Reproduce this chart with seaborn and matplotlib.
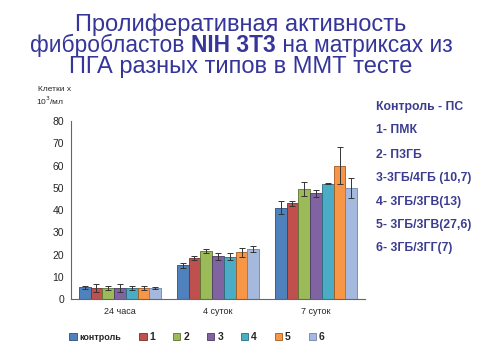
import numpy as np
import pandas as pd
import matplotlib
matplotlib.use("Agg")
import matplotlib.pyplot as plt
import seaborn as sns
from matplotlib.patches import Patch

# data
times = ["24 часа", "4 суток", "7 суток"]
groups = ["контроль", "1", "2", "3", "4", "5", "6"]
vals_24h = [5.3, 5.0, 5.0, 5.0, 5.0, 5.0, 5.0]
vals_4d = [15.2, 18.5, 21.5, 19.2, 19.0, 21.0, 22.5]
vals_7d = [41.0, 43.0, 49.5, 47.5, 51.8, 60.0, 49.8]
err_24h = [0.8, 2.0, 1.0, 2.0, 1.0, 1.0, 0.5]
err_4d = [1.2, 0.8, 1.0, 1.5, 1.5, 2.0, 1.5]
err_7d = [2.9, 1.2, 3.3, 1.5, 0.2, 8.5, 4.5]
legend_lines = ["Контроль - ПС", "1- ПМК", "2- П3ГБ", "3-3ГБ/4ГБ (10,7)",
                "4- 3ГБ/3ГВ(13)", "5- 3ГБ/3ГВ(27,6)", "6- 3ГБ/3ГГ(7)"]

colors = ["#4F81BD", "#C0504D", "#9BBB59", "#8064A2", "#4BACC6", "#F79646", "#A5B9DE"]
edges = ["#2f4f7a", "#7a2d2b", "#5c7332", "#4a3a60", "#2b6a7c", "#a35a20", "#6f83a8"]

rows = []
for t, v, e in zip(times, [vals_24h, vals_4d, vals_7d], [err_24h, err_4d, err_7d]):
    for g, vv, ee in zip(groups, v, e):
        rows.append({"time": t, "group": g, "value": vv, "err": ee})
df = pd.DataFrame(rows)

sns.set_style("white")
plt.rcParams["font.family"] = ["Liberation Sans", "DejaVu Sans"]

fig = plt.figure(figsize=(5, 3.6), dpi=100)
ax = fig.add_axes([0.142, 0.169, 0.588, 0.495])

sns.barplot(data=df, x="time", y="value", hue="group", order=times, hue_order=groups,
            palette=colors, errorbar=None, width=0.84, saturation=1, ax=ax, legend=False)

# error bars on each bar
for i, g in enumerate(groups):
    cont = ax.containers[i]
    sub = df[df["group"] == g].set_index("time").loc[times]
    for bar, v, e in zip(cont, sub["value"], sub["err"]):
        bar.set_edgecolor(edges[i])
        bar.set_linewidth(0.6)
        xc = bar.get_x() + bar.get_width() / 2
        ax.errorbar(xc, v, yerr=e, color="#333333", elinewidth=0.7, capsize=2, capthick=0.7)

ax.set_ylim(0, 80)
ax.set_xlim(-0.5, 2.5)
ax.set_yticks(range(0, 81, 10))
ax.set_xlabel("")
ax.set_ylabel("")
ax.tick_params(axis="y", labelsize=7.5, length=3, width=0.8, color="#555555", pad=2)
ax.tick_params(axis="x", which="major", labelsize=6.5, length=0, pad=6)
ax.set_xticks([-0.5, 0.5, 1.5, 2.5], minor=True)
ax.tick_params(axis="x", which="minor", length=3, width=0.8, color="#555555")
sns.despine(ax=ax)
for s in ["left", "bottom"]:
    ax.spines[s].set_color("#666666")
    ax.spines[s].set_linewidth(0.8)

fig.text(0.076, 0.748, "Клетки х", fontsize=6)
fig.text(0.072, 0.708, "10$^3$/мл", fontsize=6)

# title, middle line built from pieces so "NIH 3T3" can be bold
title_col = "#35359a"
tsize = 17
fig.text(0.482, 0.932, "Пролиферативная активность", ha="center", va="center",
         fontsize=tsize, color=title_col)
fig.text(0.482, 0.814, "ПГА разных типов в ММТ тесте", ha="center", va="center",
         fontsize=tsize, color=title_col)
renderer = fig.canvas.get_renderer()
pieces = [("фибробластов ", "normal"), ("NIH 3T3", "bold"), (" на матриксах из", "normal")]
xpos = 30
for txt, w in pieces:
    t = fig.text(xpos / 500, 0.873, txt, ha="left", va="center", fontsize=16.4,
                 color=title_col, fontweight=w)
    bb = t.get_window_extent(renderer=renderer)
    xpos += bb.width

# right side description
ys = [0.703, 0.639, 0.569, 0.506, 0.439, 0.375, 0.311]
for y, txt in zip(ys, legend_lines):
    fig.text(0.752, y, txt, fontsize=8.8, fontweight="bold", color="#3c3c90", va="center")

# bottom legend
handles = [Patch(facecolor=c, edgecolor=e, linewidth=0.6) for c, e in zip(colors, edges)]
leg = fig.legend(handles, groups, loc="center left", bbox_to_anchor=(0.12, 0.063), ncol=7,
                 frameon=False, handlelength=0.7, handleheight=0.7, handletextpad=0.3,
                 columnspacing=1.7, prop={"weight": "bold", "size": 7.5})
leg.get_texts()[0].set_fontsize(6.5)

fig.savefig("out.png", dpi=100)
